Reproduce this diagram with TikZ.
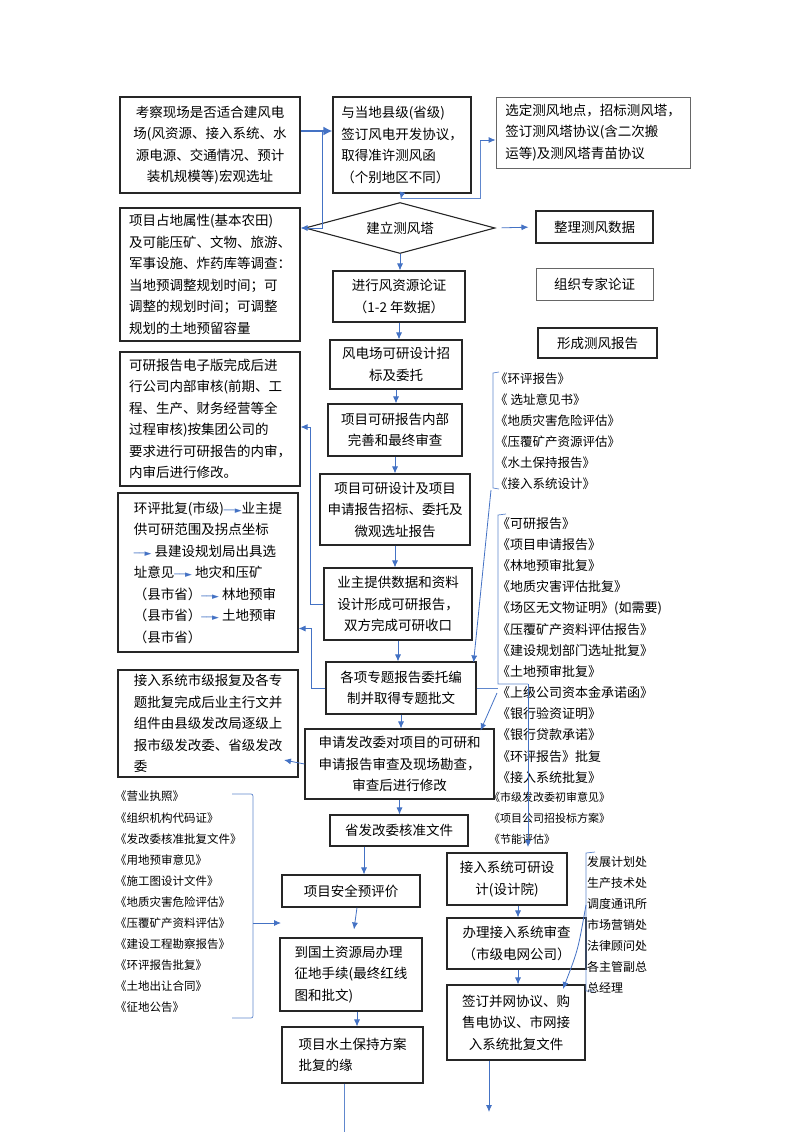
\documentclass[tikz,border=0pt]{standalone}
\usepackage{fontspec}
\setmainfont{Noto Sans CJK SC}
\newfontfamily\symfont{DejaVu Sans}
\usepackage{tikz}
\usetikzlibrary{shapes.geometric,arrows.meta,calc}
\definecolor{flowblue}{RGB}{68,114,196}
\newcommand{\inarr}{{\symfont\fontsize{9pt}{9pt}\selectfont\textcolor{flowblue}{──►}}}

\begin{document}
\begin{tikzpicture}[x=1pt, y=-1pt,
    box/.style={draw=black!85, line width=1.1pt, inner sep=2pt, font=\fontsize{13.5pt}{21.5pt}\selectfont},
    greybox/.style={box, draw=black!60, line width=0.8pt},
    doclist/.style={inner sep=0pt, anchor=north west, align=left},
    flow/.style={draw=flowblue, line width=0.8pt, -{Latex[length=7pt,width=6pt]}},
    link/.style={draw=flowblue!85, line width=0.7pt}]

    \useasboundingbox (0,0) rectangle (800,1132);

    % top row
    \node[box, minimum width=180pt, minimum height=96pt, align=center] (b1) at (210,145) {考察现场是否适合建风电\\场(风资源、接入系统、水\\源电源、交通情况、预计\\装机规模等)宏观选址};
    \node[box, minimum width=138pt, minimum height=96pt, align=left] (b2) at (402,145) {与当地县级(省级)\\签订风电开发协议，\\取得准许测风函\\（个别地区不同）};
    \node[greybox, minimum width=194pt, minimum height=71pt, align=left] (b3) at (593,132.5) {选定测风地点，招标测风塔，\\签订测风塔协议(含二次搬\\运等)及测风塔青苗协议};

    % wind tower
    \node[box, shape=diamond, aspect=3.8, inner sep=1pt, minimum width=190pt, minimum height=51pt] (dia) at (400,228) {建立测风塔};
    \node[box, minimum width=117pt, minimum height=32pt] (b5) at (594.5,227) {整理测风数据};
    \node[box, minimum width=180pt, minimum height=133pt, align=left] (b6) at (210,274.5) {项目占地属性(基本农田)\\及可能压矿、文物、旅游、\\军事设施、炸药库等调查：\\当地预调整规划时间；可\\调整的规划时间；可调整\\规划的土地预留容量};
    \node[box, minimum width=132pt, minimum height=51pt, align=center] (b7) at (399,296.5) {进行风资源论证\\（1-2 年数据）};
    \node[greybox, minimum width=117pt, minimum height=32pt] (b8) at (594.5,284) {组织专家论证};
    \node[box, minimum width=132pt, minimum height=49pt, align=center] (b9) at (396,364.5) {风电场可研设计招\\标及委托};
    \node[box, minimum width=119pt, minimum height=30pt] (b10) at (597.5,343) {形成测风报告};

    % feasibility study
    \node[box, minimum width=180pt, minimum height=134pt, align=left] (b11) at (210,419) {可研报告电子版完成后进\\行公司内部审核(前期、工\\程、生产、财务经营等全\\过程审核)按集团公司的\\要求进行可研报告的内审，\\内审后进行修改。};
    \node[box, minimum width=134pt, minimum height=52pt, align=center] (b12) at (395,430) {项目可研报告内部\\完善和最终审查};
    \node[box, minimum width=150pt, minimum height=71pt, align=center] (b14) at (395,509.5) {项目可研设计及项目\\申请报告招标、委托及\\微观选址报告};
    \node[box, minimum width=180pt, minimum height=159pt, align=left] (b15) at (208,572.5) {环评批复(市级)\inarr 业主提\\供可研范围及拐点坐标\\\inarr\ 县建设规划局出具选\\址意见\inarr\ 地灾和压矿\\（县市省）\inarr\ 林地预审\\（县市省）\inarr\ 土地预审\\（县市省）};
    \node[box, minimum width=148pt, minimum height=72pt, align=center] (b16) at (398,604) {业主提供数据和资料\\设计形成可研报告，\\双方完成可研收口};
    \node[box, minimum width=150pt, minimum height=52pt, align=center] (b18) at (401,688) {各项专题报告委托编\\制并取得专题批文};
    \node[box, minimum width=180pt, minimum height=107pt, align=left] (b19) at (208,723.5) {接入系统市级报复及各专\\题批复完成后业主行文并\\组件由县级发改局逐级上\\报市级发改委、省级发改\\委};
    \node[box, minimum width=189pt, minimum height=70pt, align=center] (b20) at (399.5,764) {申请发改委对项目的可研和\\申请报告审查及现场勘查，\\审查后进行修改};
    \node[box, minimum width=138pt, minimum height=31pt] (b21) at (399,830.5) {省发改委核准文件};

    % construction
    \node[box, minimum width=138pt, minimum height=32pt] (b23) at (351,891) {项目安全预评价};
    \node[box, minimum width=142pt, minimum height=73pt, align=left] (b24) at (351,974.5) {到国土资源局办理\\征地手续(最终红线\\图和批文)};
    \node[box, minimum width=141pt, minimum height=56pt, align=left] (b25) at (352.5,1055) {项目水土保持方案\\批复的缘};
    \node[box, minimum width=120pt, minimum height=52pt, align=center] (b26) at (507,879) {接入系统可研设\\计(设计院)};
    \node[box, minimum width=139pt, minimum height=51pt, align=left] (b27) at (516.5,943.5) {办理接入系统审查\\（市级电网公司）};
    \node[box, minimum width=138pt, minimum height=75pt, align=center] (b28) at (516,1022.5) {签订并网协议、购\\售电协议、市网接\\入系统批复文件};

    % document lists
    \node[doclist, font=\fontsize{12.5pt}{21pt}\selectfont] (l1) at (495,373) {《环评报告》\\《 选址意见书》\\《地质灾害危险评估》\\《压覆矿产资源评估》\\《水土保持报告》\\《接入系统设计》};
    \node[doclist, font=\fontsize{13pt}{21.17pt}\selectfont] (l2) at (497,517) {《可研报告》\\《项目申请报告》\\《林地预审批复》\\《地质灾害评估批复》\\《场区无文物证明》(如需要)\\《压覆矿产资料评估报告》\\《建设规划部门选址批复》\\《土地预审批复》\\《上级公司资本金承诺函》\\《银行验资证明》\\《银行贷款承诺》\\《环评报告》批复\\《接入系统批复》};
    \node[doclist, font=\fontsize{11pt}{21pt}\selectfont] (l2b) at (489,792) {《市级发改委初审意见》\\《项目公司招投标方案》\\《节能评估》};
    \node[doclist, font=\fontsize{11.5pt}{21.1pt}\selectfont] (l3) at (115,791) {《营业执照》\\《组织机构代码证》\\《发改委核准批复文件》\\《用地预审意见》\\《施工图设计文件》\\《地质灾害危险评估》\\《压覆矿产资料评估》\\《建设工程勘察报告》\\《环评报告批复》\\《土地出让合同》\\《征地公告》};
    \node[doclist, font=\fontsize{12pt}{21pt}\selectfont] (l4) at (587,856) {发展计划处\\生产技术处\\调度通讯所\\市场营销处\\法律顾问处\\各主管副总\\总经理};

    % free ends
    \coordinate (j1) at (322,131);
    \coordinate (t1) at (401,198);
    \coordinate (t2) at (480,140);
    \coordinate (e19) at (284,760);
    \coordinate (e3) at (281,923);
    \coordinate (e25) at (344,1132);
    \coordinate (e28) at (489,1112);
    \coordinate (k1) at (491,490);
    \coordinate (k2) at (528,684);
    \coordinate (k3) at (498,688);
    \coordinate (k4) at (497,693);
    \coordinate (k5) at (253,923);
    \coordinate (k6) at (586,905);
    \coordinate (e26) at (528,847);

    % main flow
    \draw[flow, line width=2.5pt, -{Latex[length=9pt,width=9pt]}] ($(b1.east)+(0,-14)$) -- ($(b2.west)+(0,-14)$);
    \draw[flow] (j1) |- (b6.east |- dia.west);
    \draw[flow, shorten >=3pt] (b2.south) -- (dia.north);
    \draw[link] (t1) -| (t2);
    \draw[flow] (t2) -- (b3.west |- t2);
    \draw[flow, shorten <=6pt, shorten >=7pt] (dia.east) -- (b5.west);
    \draw[flow] (dia.south) -- (dia.south |- b7.north);
    \draw[flow] (b7.south) -- (b7.south |- b9.north);
    \draw[flow] (b9.south) -- (b9.south |- b12.north);
    \draw[flow] (b12.south) -- (b12.south |- b14.north);
    \draw[flow] (b14.south) -- (b14.south |- b16.north);
    \draw[flow] (b16.south) -- (b16.south |- b18.north);
    \draw[flow] (b18.south) -- (b18.south |- b20.north);
    \draw[flow] (b20.south) -- (b20.south |- b21.north);
    \draw[flow] ($(b21.south)+(-35,0)$) -- ($(b23.north)+(13,0)$);
    \draw[flow] ($(b23.south)+(6,0)$) -- ($(b24.north)+(3,-8)$);
    \draw[flow] ($(b24.south)+(6,0)$) -- ($(b25.north)+(4.5,0)$);
    \draw[link] ($(b25.south)+(-8.5,0)$) -- (e25);
    \draw[flow] ($(b26.south)+(11,0)$) -- ($(b27.north)+(1.5,0)$);
    \draw[flow] ($(b27.south)+(1.5,0)$) -- ($(b28.north)+(2,0)$);
    \draw[flow] (b28.south -| e28) -- (e28);

    % back to the left column
    \draw[flow] (b16.west) -- ++(-13,0) |- ($(b11.east)+(0,8)$);
    \draw[flow] (b18.west) -- ++(-14,0) |- ($(b15.east)+(0,56)$);
    \draw[flow] (b20.west) -- (e19);

    % brackets of the lists
    \draw[link] (499,372) -- (493,373) -- (493,488) -- (499,489);
    \draw[flow] (k1) -- ($(b18.north east)+(-3,1)$);
    \draw[link] (506,514) -- (498,515) -- (498,684) -- (k2);
    \draw[link] (b18.east) -- (k3);
    \draw[flow] (k2) -- (e26);
    \draw[flow] (k4) -- ($(b20.north east)+(-14,2)$);
    \draw[link] (232,794) -- (249,794) .. controls (253,794) .. (253,799) -- (253,1013) .. controls (253,1018) .. (249,1018) -- (232,1018);
    \draw[flow] (k5) -- (e3);
    \draw[link] (595,852) -- (586,853) -- (586,991) -- (594,991);
    \draw[flow] (k6) .. controls (578,950) .. (563,989);
\end{tikzpicture}
\end{document}
